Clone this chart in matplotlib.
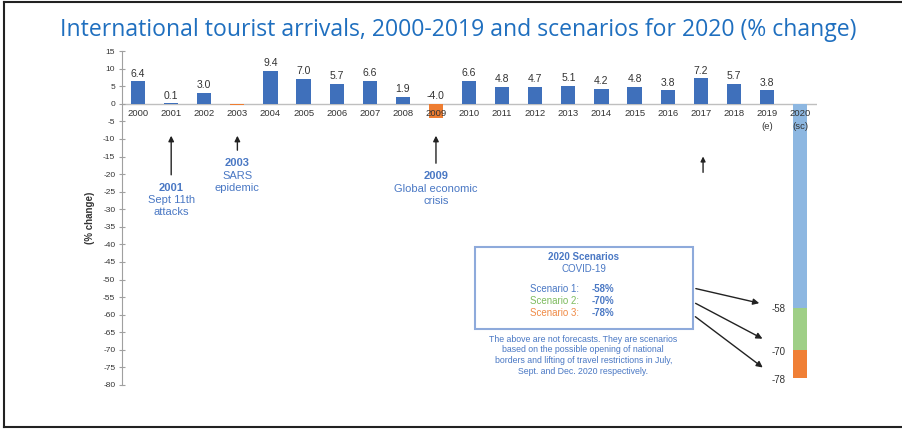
import matplotlib.pyplot as plt
from matplotlib.lines import Line2D

plt.rcParams['font.family'] = ['Liberation Sans', 'DejaVu Sans']
plt.rcParams['axes.unicode_minus'] = False

# data
years = ['2000', '2001', '2002', '2003', '2004', '2005', '2006', '2007', '2008', '2009',
         '2010', '2011', '2012', '2013', '2014', '2015', '2016', '2017', '2018', '2019\n(e)']
growth = [6.4, 0.1, 3.0, -0.4, 9.4, 7.0, 5.7, 6.6, 1.9, -4.0,
          6.6, 4.8, 4.7, 5.1, 4.2, 4.8, 3.8, 7.2, 5.7, 3.8]
show_label = [True, True, True, False, True, True, True, True, True, True,
              True, True, True, True, True, True, True, True, True, True]
scen_year = '2020\n(sc)'
scen_values = [-58, -70, -78]
scen_names = ['Scenario 1:', 'Scenario 2:', 'Scenario 3:']
scen_colors = ['#8db7e1', '#9fcf86', '#f07f35']

blue = '#3f70bb'
orange = '#ee7d31'
txt_blue = '#4a78c4'

fig = plt.figure(figsize=(9.03, 4.29), dpi=100)
ax = fig.add_axes([0.1346, 0.1026, 0.7697, 0.7784])

x = list(range(len(years)))
cols = [blue if v >= 0 else orange for v in growth]
ax.bar(x, growth, width=0.43, color=cols, zorder=2)
for xi, v, s in zip(x, growth, show_label):
    if s:
        ax.annotate(f'{v:.1f}', (xi, max(v, 0)), xytext=(0, 2), textcoords='offset points',
                    ha='center', va='bottom', fontsize=7.5, color='#333333')

# 2020 scenarios stacked bar
i20 = len(years)
prev = 0
for v, c in zip(scen_values, scen_colors):
    ax.bar(i20, v - prev, bottom=prev, width=0.43, color=c, zorder=2)
    prev = v
for v in scen_values:
    ax.text(19.55, v - 0.5, str(v), ha='right', va='center', fontsize=7, color='#333333')

# year labels under zero line
for xi, lab in enumerate(years + [scen_year]):
    ax.text(xi, -1.6, lab, ha='center', va='top', fontsize=6.8, color='#333333',
            linespacing=1.5, zorder=3)

ax.axhline(0, color='#bfbfbf', lw=1, zorder=1)
ax.set_xlim(-0.5, 20.5)
ax.set_ylim(-80, 15)
ax.set_yticks(range(-80, 16, 5))
ax.set_xticks([])
for sp in ['top', 'right', 'bottom']:
    ax.spines[sp].set_visible(False)
ax.spines['left'].set_color('#a0a0a0')
ax.tick_params(axis='y', direction='inout', length=5, color='#a0a0a0', labelsize=6,
               labelcolor='#333333', pad=2)
ax.set_ylabel('(% change)', fontsize=7, fontweight='bold', color='#333333', labelpad=6)

# event annotations
events = [
    (1, -8.3, -21.0, '2001', 'Sept 11th\nattacks'),
    (3, -8.3, -14.0, '2003', 'SARS\nepidemic'),
    (9, -8.3, -17.7, '2009', 'Global economic\ncrisis'),
]
for ex, ytop, ybot, yr, desc in events:
    ax.annotate('', xy=(ex, ytop), xytext=(ex, ybot),
                arrowprops=dict(arrowstyle='-|>', color='#222222', lw=1, mutation_scale=8))
    ax.text(ex, ybot - 1.5, yr, ha='center', va='top', fontsize=8, fontweight='bold', color=txt_blue)
    ax.text(ex, ybot - 5.0, desc, ha='center', va='top', fontsize=8, color=txt_blue, linespacing=1.25)
ax.annotate('', xy=(17.07, -14.2), xytext=(17.07, -20.3),
            arrowprops=dict(arrowstyle='-|>', color='#222222', lw=1, mutation_scale=7))

# scenario box
box = plt.Rectangle((10.18, -64.1), 6.59, 23.3, fill=False, ec='#8eaadb', lw=1.5, zorder=3)
ax.add_patch(box)
ax.text(13.47, -43.6, '2020 Scenarios', ha='center', va='center', fontsize=7,
        fontweight='bold', color=txt_blue)
ax.text(13.47, -47.0, 'COVID-19', ha='center', va='center', fontsize=7, color=txt_blue)
ys = [-52.7, -56.1, -59.5]
name_cols = [txt_blue, '#7dbb5e', '#f08a45']
for yv, nm, nc, v in zip(ys, scen_names, name_cols, scen_values):
    ax.text(13.33, yv, nm, ha='right', va='center', fontsize=7, color=nc)
    ax.text(13.7, yv, f'{v}%', ha='left', va='center', fontsize=7, fontweight='bold', color=txt_blue)
ax.text(13.45, -65.7, 'The above are not forecasts. They are scenarios\n'
        'based on the possible opening of national\n'
        'borders and lifting of travel restrictions in July,\n'
        'Sept. and Dec. 2020 respectively.',
        ha='center', va='top', fontsize=6.3, color=txt_blue, linespacing=1.25)

arrows = [((16.77, -52.4), (18.85, -56.9)),
          ((16.77, -56.4), (18.94, -67.2)),
          ((16.77, -60.1), (18.94, -75.5))]
for (x0, y0), (x1, y1) in arrows:
    ax.annotate('', xy=(x1, y1), xytext=(x0, y0),
                arrowprops=dict(arrowstyle='-|>', color='#222222', lw=1, mutation_scale=9))

fig.text(0.507, 0.93, 'International tourist arrivals, 2000-2019 and scenarios for 2020 (% change)',
         ha='center', va='center', fontsize=16.6, color='#1f6fbf', family='Open Sans')

# frame around picture
for xs, ysf in [([0.0045, 0.0045], [0.005, 0.995]), ([0.0045, 1], [0.995, 0.995]),
                ([0.0045, 1], [0.005, 0.005])]:
    fig.add_artist(Line2D(xs, ysf, transform=fig.transFigure, color='#222222', lw=1.5))

fig.savefig('out.png', dpi=100)
